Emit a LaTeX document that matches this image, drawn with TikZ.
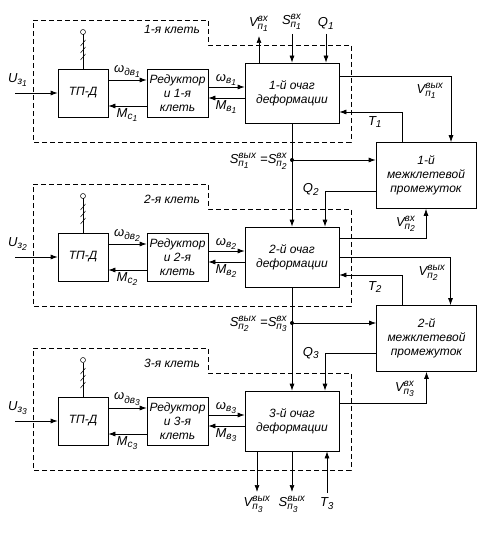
\documentclass[tikz,border=0pt]{standalone}
\usepackage{fontspec}
\usepackage{amsmath}
\setmainfont{Liberation Sans}
\usetikzlibrary{arrows.meta}
\DeclareMathSizes{13}{13}{10}{8.5}
\newcommand{\sgs}[2]{$\text{#1}_{\text{#2}}$}
\newcommand{\sgd}[3]{$\text{#1}_{\text{#2}_{\text{#3}}}$}
\newcommand{\sgt}[4]{$\text{#1}^{\text{#2}}_{\text{#3}_{\text{#4}}}$}
\begin{document}
\begin{tikzpicture}[x=1pt, y=-1pt, >={Latex[length=7pt,width=5pt]}, line width=0.7pt,
  font=\fontsize{12}{14}\selectfont\itshape,
  blk/.style={draw, align=center, inner sep=1pt},
  sig/.style={inner sep=1pt, font=\fontsize{13}{15}\selectfont\itshape},
  io/.style={sig, inner ysep=4pt},
  stand/.style={dash pattern=on 5pt off 3pt}]
\useasboundingbox (0,0) rectangle (481,545);
\foreach \i/\off/\ly in {1/0/29, 2/164/199, 3/328/363}{
  \draw[stand] (33,20+\off) -- (208,20+\off) -- (208,45+\off) -- (351,45+\off)
    -- (351,142+\off) -- (33,142+\off) -- cycle;
  \node[sig, font=\fontsize{12}{14}\selectfont\itshape] (kl\i) at (172,\ly) {\i-я клеть};
  \node[blk, minimum width=50pt, minimum height=48pt] (tpd\i) at (83,93+\off) {ТП-Д};
  \node[blk, minimum width=61pt, minimum height=48pt] (red\i) at (177.5,93+\off) {Редуктор\\и \i-я\\клеть};
  \node[blk, minimum width=94pt, minimum height=60pt] (def\i) at (292,93+\off) {\i-й очаг\\деформации};
  % антенна
  \coordinate (ant\i) at (83,32+\off);
  \draw (tpd\i.north) -- ([yshift=-2.5pt]ant\i);
  \draw[line width=0.5pt] (ant\i) circle (2.5pt);
  \foreach \h in {43,50,57}
    \draw[line width=0.5pt] (80.5,\h+3+\off) -- (85.5,\h-3+\off);
  \coordinate (uin\i) at (15,93+\off);
  \node[sig] (ul\i) at (18,80+\off) {\sgd{U}{з}{\i}};
  \draw[->] (uin\i) -- (tpd\i.west);
  \draw[->] ([yshift=13pt]tpd\i.east) -- ([yshift=13pt]red\i.west)
    node[midway, above, sig, yshift=1pt] {\sgd{ω}{дв}{\i}};
  \draw[->] ([yshift=-13pt]red\i.west) -- ([yshift=-13pt]tpd\i.east)
    node[midway, below, sig, yshift=-1pt] {\sgd{M}{c}{\i}};
  \draw[->] ([yshift=6pt]red\i.east) -- ([yshift=6pt]red\i.east -| def\i.west)
    node[midway, above, sig] {\sgd{ω}{в}{\i}};
  \draw[->] ([yshift=-5pt]red\i.east -| def\i.west) -- ([yshift=-5pt]red\i.east)
    node[midway, below, sig, yshift=-1pt] {\sgd{M}{в}{\i}};
}
% межклетевые промежутки
\node[blk, minimum width=100pt, minimum height=66pt] (int1) at (426,175.5) {1-й\\межклетевой\\промежуток};
\node[blk, minimum width=100pt, minimum height=66pt] (int2) at (426.5,338.5) {2-й\\межклетевой\\промежуток};
% входы 1-й клети
\node[io, anchor=south] (vin1) at (259,36) {\sgt{V}{вх}{п}{1}};
\node[io, anchor=south] (sin1) at (292,34) {\sgt{S}{вх}{п}{1}};
\node[io, anchor=south] (q1) at (326,34) {\sgs{Q}{1}};
\draw[->] (vin1.south |- def1.north) -- (vin1.south);
\draw[->] (sin1.south) -- (sin1.south |- def1.north);
\draw[->] (q1.south) -- (q1.south |- def1.north);
% 1-я клеть -- 1-й промежуток
\draw[->] ([yshift=17pt]def1.east) -| ([xshift=25pt]int1.north);
\node[sig] (vout1) at (430,91) {\sgt{V}{вых}{п}{1}};
\draw[->] ([xshift=-24pt]int1.north) |- ([yshift=-19pt]def1.east);
\node[sig] (t1) at (375,122) {\sgs{T}{1}};
\coordinate (br1) at (292,160);
\draw[->] (def1.south) -- (def2.north);
\fill (br1) circle (2pt);
\draw[->] (br1) -- (br1 -| int1.west);
\node[sig, anchor=east] (seq1) at (289,161) {\sgt{S}{вых}{п}{1}\;=\sgt{S}{вх}{п}{2}};
\draw[->] ([yshift=-15.5pt]int1.west) -| ([xshift=33pt]def2.north);
\node[sig] (q2) at (311,189) {\sgs{Q}{2}};
\draw[->] ([yshift=19pt]def2.east) -| (int1.south);
\node[sig] (vin2) at (406,224) {\sgt{V}{вх}{п}{2}};
% 2-я клеть -- 2-й промежуток
\draw[->] (def2.east) -| ([xshift=24pt]int2.north);
\node[sig] (vout2) at (432,273) {\sgt{V}{вых}{п}{2}};
\draw[->] ([xshift=-24pt]int2.north) |- ([yshift=-18pt]def2.east);
\node[sig] (t2) at (375,287) {\sgs{T}{2}};
\coordinate (br2) at (292,323);
\draw[->] (def2.south) -- (def3.north);
\fill (br2) circle (2pt);
\draw[->] (br2) -- (br2 -| int2.west);
\node[sig, anchor=east] (seq2) at (289,324) {\sgt{S}{вых}{п}{2}\;=\sgt{S}{вх}{п}{3}};
\draw[->] ([yshift=-14.5pt]int2.west) -| ([xshift=33pt]def3.north);
\node[sig] (q3) at (311,353) {\sgs{Q}{3}};
\draw[->] ([yshift=18pt]def3.east) -| (int2.south);
\node[sig] (vin3) at (405,389) {\sgt{V}{вх}{п}{3}};
% выходы 3-й клети
\node[io, anchor=north] (vout3) at (257,492) {\sgt{V}{вых}{п}{3}};
\node[io, anchor=north] (sout3) at (292,492) {\sgt{S}{вых}{п}{3}};
\node[io, anchor=north] (t3) at (327,493) {\sgs{T}{3}};
\draw[->] (vout3.north |- def3.south) -- (vout3.north);
\draw[->] (sout3.north |- def3.south) -- (sout3.north);
\draw[->] (t3.north) -- (t3.north |- def3.south);
\end{tikzpicture}
\end{document}
